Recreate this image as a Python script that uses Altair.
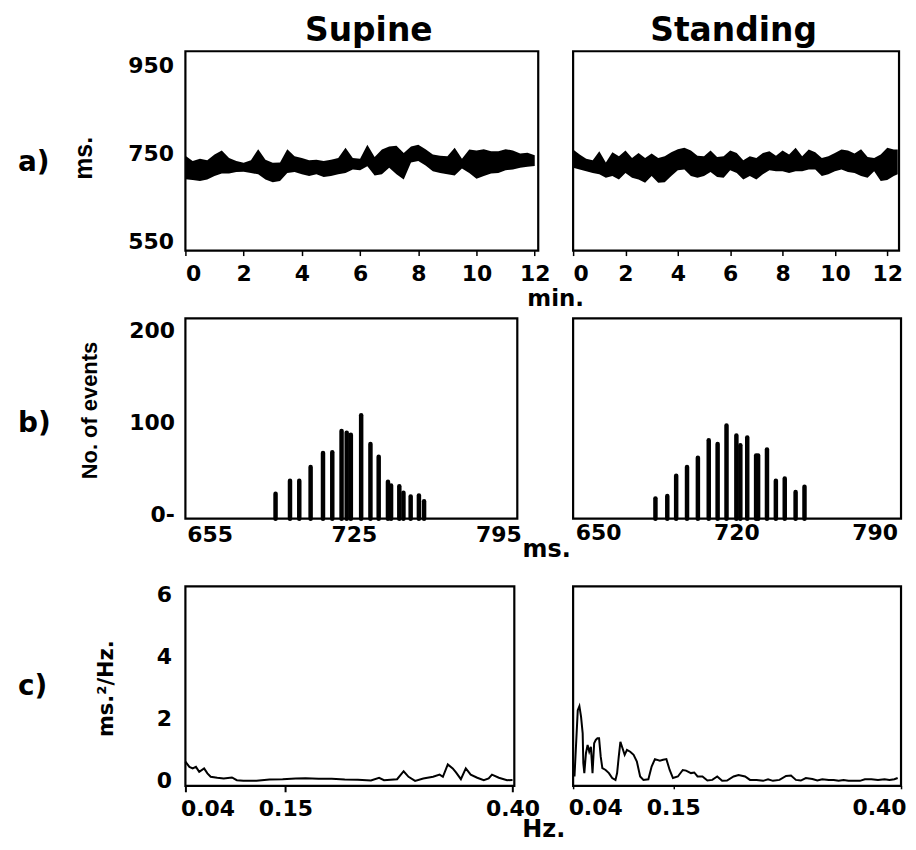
import altair as alt
import pandas as pd

FONT = "DejaVu Sans"
SANS = "Liberation Sans"

# ---------------- a) RR tachograms (upper / lower envelope of the trace, ms)
sup_t = [0.0, 0.25, 0.5, 0.75, 1.0, 1.25, 1.5, 1.75, 2.0, 2.25, 2.5, 2.75, 3.0, 3.25,
         3.5, 3.75, 4.0, 4.25, 4.5, 4.75, 5.0, 5.25, 5.5, 5.75, 6.0, 6.25, 6.5, 6.75,
         7.0, 7.25, 7.5, 7.75, 8.0, 8.25, 8.5, 8.75, 9.0, 9.25, 9.5, 9.75, 10.0, 10.25,
         10.5, 10.75, 11.0, 11.25, 11.5, 11.75, 12.0]
sup_hi = [745, 733, 738, 735, 748, 757, 740, 733, 729, 735, 760, 736, 729, 730, 760, 744,
          740, 735, 736, 733, 736, 740, 763, 740, 738, 770, 742, 759, 766, 768, 751, 766,
          770, 760, 748, 745, 744, 763, 738, 759, 757, 760, 755, 755, 760, 757, 750, 752, 746]
sup_lo = [692, 690, 688, 691, 699, 705, 705, 708, 709, 706, 703, 691, 685, 688, 706, 708,
          703, 699, 703, 697, 699, 703, 706, 714, 712, 721, 700, 703, 718, 703, 691, 730,
          733, 723, 710, 706, 703, 700, 716, 706, 693, 699, 705, 706, 712, 714, 718, 720, 722]

sta_t = [0.0, 0.25, 0.5, 0.75, 1.0, 1.25, 1.5, 1.75, 2.0, 2.25, 2.5, 2.75, 3.0, 3.25,
         3.5, 3.75, 4.0, 4.25, 4.5, 4.75, 5.0, 5.25, 5.5, 5.75, 6.0, 6.25, 6.5, 6.75,
         7.0, 7.25, 7.5, 7.75, 8.0, 8.25, 8.5, 8.75, 9.0, 9.25, 9.5, 9.75, 10.0, 10.25,
         10.5, 10.75, 11.0, 11.25, 11.5, 11.75, 12.0, 12.25, 12.4]
sta_hi = [759, 748, 738, 735, 755, 730, 753, 744, 757, 740, 751, 740, 750, 740, 744, 753,
          760, 763, 757, 745, 744, 757, 742, 744, 757, 751, 735, 744, 740, 751, 755, 745,
          757, 748, 763, 744, 759, 753, 740, 744, 751, 759, 757, 750, 760, 742, 740, 748,
          763, 759, 759]
sta_lo = [718, 714, 710, 706, 703, 695, 699, 691, 706, 695, 691, 684, 699, 684, 685, 699,
          712, 714, 699, 695, 699, 708, 697, 695, 712, 706, 691, 699, 691, 703, 712, 710,
          710, 706, 710, 710, 714, 714, 699, 703, 710, 714, 708, 706, 699, 695, 710, 688,
          690, 699, 703]

a_xticks = [0, 2, 4, 6, 8, 10, 12]
a_yticks = [550, 750, 950]

# ---------------- b) RR histograms
sup_ms = [687, 694, 698.5, 704, 710, 714.5, 719, 721.5, 723.5, 728.5, 733, 737, 741.5,
          743, 747, 749, 752.5, 756.5, 759]
sup_n = [23, 37, 37, 52, 67, 68, 91, 89, 87, 108, 77, 63, 36, 32, 31, 24, 20, 21, 15]
sta_ms = [679, 685, 689.5, 695, 700.5, 706, 710.5, 715, 720, 722, 725.5, 730, 731,
          735.5, 740, 744.5, 750, 754.5]
sta_n = [18, 20.5, 42.5, 52, 62, 81, 77, 97, 86, 75.5, 84, 64.5, 64.5, 71, 37, 39.5,
         25, 30.5]
b_sup_xticks = [655, 725, 795]
b_sta_xticks = [650, 720, 790]
b_yticks = [0, 100, 200]

# ---------------- c) power spectra
sup_f = [0.040, 0.0444, 0.048, 0.0516, 0.0552, 0.0606, 0.0642, 0.0678, 0.075, 0.0822,
         0.0912, 0.0966, 0.1038, 0.1182, 0.1326, 0.147, 0.1614, 0.1722, 0.1866, 0.201,
         0.2154, 0.2298, 0.2442, 0.2532, 0.2586, 0.273, 0.2802, 0.2856, 0.2928, 0.3018,
         0.3126, 0.3198, 0.3234, 0.3288, 0.3342, 0.3378, 0.3432, 0.3486, 0.354, 0.3612,
         0.3684, 0.3738, 0.3774, 0.385, 0.394, 0.40]
sup_p = [0.62, 0.45, 0.40, 0.45, 0.29, 0.40, 0.24, 0.13, 0.10, 0.075, 0.11, 0.02, 0.0,
         0.0, 0.043, 0.054, 0.075, 0.085, 0.064, 0.064, 0.043, 0.032, 0.011, 0.10, 0.02,
         0.054, 0.31, 0.13, 0.0, 0.075, 0.13, 0.20, 0.13, 0.53, 0.40, 0.27, 0.054, 0.40,
         0.20, 0.10, 0.021, 0.075, 0.20, 0.10, 0.02, 0.03]
sta_f = [0.0415, 0.0451, 0.0469, 0.0487, 0.0505, 0.0512, 0.0523, 0.0541, 0.0559, 0.0577,
         0.0595, 0.0613, 0.0631, 0.0649, 0.0667, 0.0685, 0.0703, 0.0721, 0.0757, 0.0793,
         0.0829, 0.0865, 0.0883, 0.0901, 0.0919, 0.0937, 0.0966, 0.0991, 0.1027, 0.1064,
         0.1100, 0.1136, 0.1172, 0.1226, 0.1262, 0.1298, 0.1352, 0.1388, 0.1424, 0.1460,
         0.1496, 0.1550, 0.1604, 0.1640, 0.1694, 0.1730, 0.1766, 0.1820, 0.1874, 0.1928,
         0.1982, 0.2036, 0.2090, 0.2162, 0.2216, 0.2288, 0.2342, 0.2414, 0.2486, 0.2540,
         0.2594, 0.2666, 0.2738, 0.2792, 0.2846, 0.2900, 0.2955, 0.3027, 0.3081, 0.3135,
         0.3207, 0.3261, 0.3315, 0.3369, 0.3423, 0.3495, 0.3549, 0.3603, 0.3675, 0.3747,
         0.3819, 0.3873, 0.3927, 0.3963]
sta_p = [0.14, 2.28, 2.41, 2.07, 1.53, 0.57, 0.25, 0.89, 1.16, 0.94,
         1.10, 0.25, 1.21, 1.32, 1.37, 1.37, 0.78, 0.41, 0.35, 0.25,
         0.09, 0.03, 0.25, 0.78, 1.26, 1.10, 0.84, 1.00, 0.94, 0.84,
         0.62, 0.14, 0.03, 0.05, 0.46, 0.70, 0.65, 0.68, 0.70, 0.35,
         0.09, 0.14, 0.35, 0.33, 0.25, 0.27, 0.14, 0.14, 0.01, 0.03,
         0.14, 0.0, 0.01, 0.14, 0.19, 0.14, 0.03, 0.03, 0.0, 0.05,
         0.0, 0.03, 0.16, 0.17, 0.03, 0.01, 0.09, 0.06, 0.01, 0.05,
         0.03, 0.03, 0.0, 0.03, 0.0, 0.0, 0.0, 0.05, 0.05, 0.03,
         0.05, 0.03, 0.05, 0.09]
c_xticks = [0.04, 0.15, 0.40]
c_yticks = [0, 2, 4, 6]

row_labels = ["a)", "b)", "c)"]
col_titles = ["Supine", "Standing"]


def text_mark(text, x, y, size, align="left", baseline="middle"):
    return alt.Chart(pd.DataFrame({"s": [text]})).mark_text(
        font=FONT, fontWeight="bold", fontSize=size, align=align, baseline=baseline,
        color="black").encode(x=alt.value(x), y=alt.value(y), text="s:N")


def xtitle(text, tx, ty, size):
    return dict(title=text, titleFont=FONT, titleFontWeight="bold", titleFontSize=size,
                titleX=tx, titleY=ty, titleAlign="center", titleBaseline="alphabetic",
                titleAngle=0)


def ytitle(text, tx, ty, font, size):
    return dict(title=text, titleFont=font, titleFontWeight="bold", titleFontSize=size,
                titleX=tx, titleY=ty, titleAngle=270, titleAlign="center",
                titleBaseline="middle")


# ---- row a
a_sup = alt.Chart(pd.DataFrame({"t": sup_t, "hi": sup_hi, "lo": sup_lo})).mark_area(
    color="black").encode(
    x=alt.X("t:Q", scale=alt.Scale(domain=[0, 12.12], nice=False, zero=False),
            axis=alt.Axis(values=a_xticks, format="d", ticks=True, tickSize=5,
                          tickWidth=1.5, labelPadding=8, **xtitle("min.", 371, 55, 23))),
    y=alt.Y("hi:Q", scale=alt.Scale(domain=[530, 982], nice=False, zero=False),
            axis=alt.Axis(values=a_yticks, format="d", ticks=False, labelPadding=12,
                          **ytitle("ms.", -102, 107, SANS, 25))),
    y2="lo:Q")
a_left = alt.layer(
    a_sup,
    text_mark(row_labels[0], -168, 112, 28),
    text_mark(col_titles[0], 184, -10.5, 33, align="center", baseline="alphabetic"),
).properties(width=354, height=200)

a_sta = alt.Chart(pd.DataFrame({"t": sta_t, "hi": sta_hi, "lo": sta_lo})).mark_area(
    color="black").encode(
    x=alt.X("t:Q", scale=alt.Scale(domain=[0, 12.45], nice=False, zero=False),
            axis=alt.Axis(values=a_xticks, format="d", ticks=True, tickSize=5,
                          tickWidth=1.5, labelPadding=8, title=None)),
    y=alt.Y("hi:Q", scale=alt.Scale(domain=[530, 982], nice=False, zero=False), axis=None),
    y2="lo:Q")
a_right = alt.layer(
    a_sta,
    text_mark(col_titles[1], 161, -10.5, 33, align="center", baseline="alphabetic"),
).properties(width=327, height=200)

# ---- row b
b_sup = alt.Chart(pd.DataFrame({"ms": sup_ms, "n": sup_n})).mark_rule(
    color="black", strokeWidth=4.5, strokeCap="round").encode(
    x=alt.X("ms:Q", scale=alt.Scale(domain=[643.3, 804.2], nice=False, zero=False),
            axis=alt.Axis(values=b_sup_xticks, format="d", ticks=False, labelPadding=6,
                          **xtitle("ms.", 362, 38, 24))),
    y=alt.Y("n:Q", scale=alt.Scale(domain=[-4, 212.9], nice=False, zero=False),
            axis=alt.Axis(values=b_yticks, format="d", ticks=False, labelPadding=11,
                          labelExpr="datum.value == 0 ? '0-' : datum.label",
                          **ytitle("No. of events", -96, 92, SANS, 22))),
    y2=alt.datum(-4))
b_left = alt.layer(b_sup, text_mark(row_labels[1], -168, 106, 28)).properties(
    width=333, height=201)

b_right = alt.Chart(pd.DataFrame({"ms": sta_ms, "n": sta_n})).mark_rule(
    color="black", strokeWidth=4.5, strokeCap="round").encode(
    x=alt.X("ms:Q", scale=alt.Scale(domain=[637.3, 803.4], nice=False, zero=False),
            axis=alt.Axis(values=b_sta_xticks, format="d", ticks=False, labelPadding=4,
                          title=None)),
    y=alt.Y("n:Q", scale=alt.Scale(domain=[-4, 212.9], nice=False, zero=False), axis=None),
    y2=alt.datum(-4)).properties(width=329, height=201)

# ---- row c
c_sup = alt.Chart(pd.DataFrame({"f": sup_f, "p": sup_p})).mark_line(
    color="black", strokeWidth=2).encode(
    x=alt.X("f:Q", scale=alt.Scale(domain=[0.04, 0.402], nice=False, zero=False),
            axis=alt.Axis(values=c_xticks, format=".2f", ticks=True, tickSize=6,
                          tickWidth=2, labelPadding=7, labelFlush=True,
                          labelFlushOffset=5, **xtitle("Hz.", 359, 51, 24))),
    y=alt.Y("p:Q", scale=alt.Scale(domain=[-0.16, 6.27], nice=False, zero=False),
            axis=alt.Axis(values=c_yticks, format="d", ticks=False, labelPadding=14,
                          **ytitle("ms.\u00b2/Hz.", -79, 102, FONT, 21))))
c_left = alt.layer(c_sup, text_mark(row_labels[2], -168, 101, 28)).properties(
    width=330, height=200)

c_right = alt.Chart(pd.DataFrame({"f": sta_f, "p": sta_p})).mark_line(
    color="black", strokeWidth=2).encode(
    x=alt.X("f:Q", scale=alt.Scale(domain=[0.04, 0.40], nice=False, zero=False),
            axis=alt.Axis(values=c_xticks, format=".2f", ticks=True, tickSize=3,
                          tickWidth=1.5, labelPadding=9, labelFlush=True,
                          labelFlushOffset=5, title=None)),
    y=alt.Y("p:Q", scale=alt.Scale(domain=[-0.16, 6.27], nice=False, zero=False),
            axis=None)).properties(width=329, height=200)

chart = alt.concat(
    a_left, a_right, b_left, b_right, c_left, c_right,
    columns=2, spacing={"row": 68, "column": 35}, bounds="flush", align="each",
).properties(
    padding={"left": 8, "top": 4, "right": 0, "bottom": 0}
).configure_view(
    stroke="black", strokeWidth=2.2
).configure_axis(
    domain=False, grid=False, labelFont=FONT, labelFontWeight="bold", labelFontSize=22,
    labelColor="black", tickColor="black", titleColor="black"
)

chart.save("out.html", embed_options={"renderer": "svg", "actions": False})
